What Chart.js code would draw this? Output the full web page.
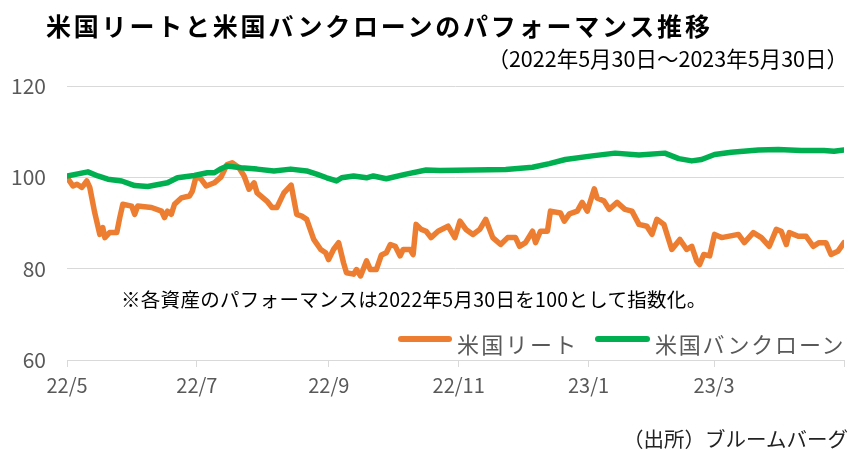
<!DOCTYPE html>
<html><head><meta charset="utf-8">
<script src="https://cdn.jsdelivr.net/npm/chart.js@4.4.0/dist/chart.umd.min.js"></script>
<style>
body{margin:0;background:#fff;width:850px;height:450px;overflow:hidden;font-family:"Noto Sans CJK JP","Noto Sans",sans-serif;}
#wrap{position:relative;width:850px;height:450px;}
canvas{position:absolute;left:0;top:0;}
.t{position:absolute;white-space:nowrap;line-height:1;}
.lg{position:absolute;height:6px;border-radius:3px;}
</style></head><body>
<div id="wrap">
<canvas id="c" width="850" height="450"></canvas>
<div class="t" id="title" style="left:46px;top:13px;font-size:25px;font-weight:bold;letter-spacing:2.8px;color:#000;">米国リートと米国バンクローンのパフォーマンス推移</div>
<div class="t" id="sub" style="right:2px;top:47px;font-size:21.5px;color:#000;">（2022年5月30日～2023年5月30日）</div>
<div class="t" id="note" style="left:121px;top:289px;font-size:19.5px;letter-spacing:0.3px;color:#000;">※各資産のパフォーマンスは2022年5月30日を100として指数化。</div>
<div class="lg" style="left:398px;width:54px;top:336px;background:#ED7D31;"></div>
<div class="t" style="left:457px;top:332px;font-size:22px;letter-spacing:2.3px;color:#595959;">米国リート</div>
<div class="lg" style="left:595px;width:55px;top:336px;background:#00B050;"></div>
<div class="t" style="left:655px;top:332px;font-size:22px;letter-spacing:1.8px;color:#595959;">米国バンクローン</div>
<div class="t" id="src" style="right:2px;top:428px;font-size:20.5px;color:#222;">（出所）ブルームバーグ</div>
</div>
<script>
// days since 2022-05-30
const reitDays = [0,2.8,4.7,7,9.3,10.7,13,15.4,16.8,17.8,20,23.4,24.8,26.2,30.4,31.8,33.2,39.7,44.4,45.8,47.2,49,50.5,53.7,57.5,58.9,60.7,63,65.4,69.2,72.4,75.2,77.6,80.8,83.2,85.5,87.9,89.3,93.9,96.3,98.6,101.9,105.3,107.9,110.3,112.6,115.9,119.2,121.5,122.9,125.2,127.6,129.9,131.3,134.6,136,137.9,140.7,142.5,145.3,147.7,150,151.9,154.2,156.5,157.9,161.2,162.6,164,166.4,168.7,171,174.3,179,182.2,184.6,187.4,190.7,193.9,196.7,200,203.7,207,210.7,212.6,215.4,218.7,220.1,222.4,225.7,227.1,231.8,233.6,236,239.7,242,244.4,247.7,249,252.3,254.7,258.4,262.1,265.4,268.7,272.4,274.8,277.1,280.4,284.1,287.9,291.1,293.5,295.8,297.2,299.1,301.9,304.2,307.5,315.4,318.2,322.4,326.2,329.9,333.2,335.5,337.9,339.3,343.5,347.2,350.5,353.3,356.5,358.9,362.1,365];
const reitValues = [100,98.1,98.5,97.8,99.2,97.8,92.3,87.5,89,86.8,87.9,87.9,91.2,94.1,93.7,91.9,93.7,93.4,92.6,91.2,92.6,91.9,94.1,95.5,95.9,97,100.3,99.6,98.1,98.8,100.1,102.8,103.2,102.1,100.3,97.4,98.8,96.6,94.8,93.4,93.4,96.6,98.3,91.9,91.5,90.8,86.4,84.2,83.5,82,84.2,85.7,81.3,79.1,78.8,79.8,78.4,81.7,79.8,79.8,83,83.5,85.3,84.9,82.8,84.2,84.2,83.1,89.7,88.6,88.2,86.8,88.2,89.3,86.8,90.4,88.6,87.5,88.6,90.8,86.8,85.3,86.8,86.8,84.9,85.7,88.2,85.7,88.2,88.2,92.6,92.2,90.4,92,92.6,94.5,92.6,97.5,95.5,94.8,93,94.5,93,92.6,89.7,89.3,87.5,90.8,89.7,84.2,86.4,84.2,84.9,81.7,80.9,83.1,82.8,87.5,86.8,87.5,85.7,87.9,86.8,84.9,88.6,88.2,85.3,87.9,87.1,87.1,84.9,85.7,85.7,83.1,83.8,85.7];
const loanDays = [0,9.8,14.5,19.2,25.7,31.8,37.9,47.2,51.9,59.8,65.9,69.2,72.4,75.2,81.8,89.3,97.2,105.1,112.6,117.3,122,126.6,129,134.6,140.7,143.9,150,159.3,168.7,175.2,190.7,206.1,218.7,226.6,234.1,246.7,257.5,268.7,280.8,287.4,293.5,298.1,304.2,312.1,324.8,334.1,344.9,355.6,360.3,365];
const loanValues = [100.3,101.2,100.3,99.6,99.2,98.2,98,98.8,99.9,100.4,101,101,101.9,102.5,102.1,101.8,101.4,101.8,101.4,100.7,99.9,99.2,99.9,100.3,99.9,100.3,99.7,100.7,101.6,101.5,101.6,101.7,102.2,103,103.9,104.7,105.3,104.9,105.3,104.1,103.6,103.9,105,105.5,106,106.1,105.9,105.9,105.7,106];
const tickDays = [0,61,123,184,245,304,365];
const tickLabels = ['22/5','22/7','22/9','22/11','23/1','23/3',''];

const toPts = (xs, ys) => xs.map((d, i) => ({x: d, y: ys[i]}));
const FONT = '"Noto Sans CJK JP","Noto Sans",sans-serif';

new Chart(document.getElementById('c').getContext('2d'), {
  type: 'line',
  data: {
    datasets: [
      {label: '米国バンクローン', data: toPts(loanDays, loanValues), borderColor: '#00B050', borderWidth: 5.5, pointRadius: 0, tension: 0, borderJoinStyle: 'round', borderCapStyle: 'round', order: 0},
      {label: '米国リート', data: toPts(reitDays, reitValues), borderColor: '#ED7D31', borderWidth: 5.5, pointRadius: 0, tension: 0, borderJoinStyle: 'round', borderCapStyle: 'round', order: 1}
    ]
  },
  options: {
    responsive: false,
    animation: false,
    layout: {padding: {left: 0, right: 2, top: 86, bottom: 50}},
    plugins: {legend: {display: false}, tooltip: {enabled: false}, title: {display: false}},
    scales: {
      x: {
        type: 'linear', min: 0, max: 365,
        afterBuildTicks: (s) => { s.ticks = tickDays.map(v => ({value: v})); },
        afterFit: (s) => { s.height = 40; },
        ticks: {
          callback: (v) => { const i = tickDays.indexOf(v); return i >= 0 ? tickLabels[i] : ''; },
          color: '#595959', font: {family: FONT, size: 20}, padding: 6, maxRotation: 0, autoSkip: false
        },
        grid: {drawOnChartArea: false, drawTicks: true, tickLength: 7, color: '#d9d9d9'},
        border: {display: true, color: '#d9d9d9'}
      },
      y: {
        min: 60, max: 120,
        afterFit: (s) => { s.width = 67; },
        ticks: {stepSize: 20, color: '#595959', font: {family: FONT, size: 21}, padding: 21},
        grid: {color: '#d9d9d9', drawTicks: false, lineWidth: 1},
        border: {display: false}
      }
    }
  }
});
</script>
</body></html>
